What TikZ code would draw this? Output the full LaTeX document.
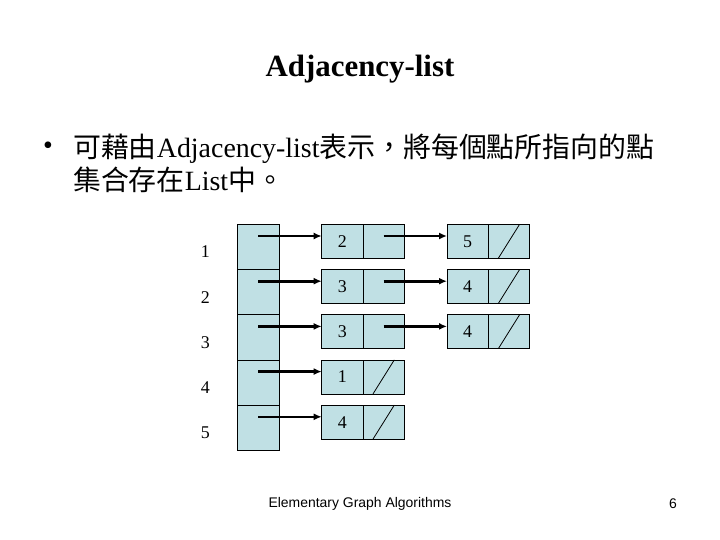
\documentclass[tikz,border=0pt]{standalone}
\usepackage{fontspec}
\setmainfont{Liberation Serif}
\setsansfont{Liberation Sans}
\newfontfamily\cjk{Noto Sans CJK TC}
\usetikzlibrary{arrows.meta, positioning}
\definecolor{cellblue}{RGB}{192, 224, 228}

\begin{document}
\begin{tikzpicture}[x=1bp, y=-1bp,
        slot/.style={rectangle, draw=black, fill=cellblue, line width=0.8bp, minimum width=42bp, minimum height=45.2bp, inner sep=0pt, outer sep=0pt},
        datac/.style={rectangle, draw=black, fill=cellblue, line width=0.8bp, minimum width=41.3bp, minimum height=34bp, inner sep=0pt, outer sep=0pt, font=\fontsize{18}{20}\selectfont},
        idx/.style={font=\fontsize{18}{20}\selectfont},
        arr/.style={-{Latex[length=8bp, width=7bp]}, line width=2.6bp},
        nil/.style={line width=0.8bp}
    ]
        \useasboundingbox (0,0) rectangle (720,540);

        % Titre et texte
        \node[font=\fontsize{31}{36}\selectfont\bfseries] (title) at (360,69) {Adjacency-list};
        \node[font=\fontsize{28}{32}\selectfont] (bul) at (48,148) {\textbullet};
        \node[anchor=north west, align=left, inner sep=0pt, font=\fontsize{28}{33}\selectfont] (txt) at (73,134)
            {{\cjk 可藉由}Adjacency-list{\cjk 表示，將每個點所指向的點}\\{\cjk 集合存在}List{\cjk 中。}};

        % Tableau des sommets
        \node[slot] (a1) at (258.3,246.9) {};
        \node[slot, below=0pt of a1] (a2) {};
        \node[slot, below=0pt of a2] (a3) {};
        \node[slot, below=0pt of a3] (a4) {};
        \node[slot, below=0pt of a4] (a5) {};

        \node[idx, left=24bp of a1, yshift=-5bp] (l1) {1};
        \node[idx, left=24bp of a2, yshift=-5bp] (l2) {2};
        \node[idx, left=24bp of a3, yshift=-5bp] (l3) {3};
        \node[idx, left=24bp of a4, yshift=-5bp] (l4) {4};
        \node[idx, left=24bp of a5, yshift=-5bp] (l5) {5};

        % Listes
        \node[datac, below right=0pt and 42.4bp of a1.north east] (n1a) {2};
        \node[datac, right=0pt of n1a] (p1a) {};
        \node[datac, right=42.7bp of p1a] (n1b) {5};
        \node[datac, right=0pt of n1b] (p1b) {};

        \node[datac, below right=0pt and 42.4bp of a2.north east] (n2a) {3};
        \node[datac, right=0pt of n2a] (p2a) {};
        \node[datac, right=42.7bp of p2a] (n2b) {4};
        \node[datac, right=0pt of n2b] (p2b) {};

        \node[datac, below right=0pt and 42.4bp of a3.north east] (n3a) {3};
        \node[datac, right=0pt of n3a] (p3a) {};
        \node[datac, right=42.7bp of p3a] (n3b) {4};
        \node[datac, right=0pt of n3b] (p3b) {};

        \node[datac, below right=0pt and 42.4bp of a4.north east] (n4a) {1};
        \node[datac, right=0pt of n4a] (p4a) {};

        \node[datac, below right=0pt and 42.4bp of a5.north east] (n5a) {4};
        \node[datac, right=0pt of n5a] (p5a) {};

        % Pointeurs
        \draw[arr] ([yshift=-11.7bp]a1.north) -- ([yshift=-11.7bp]n1a.north west);
        \draw[arr] ([yshift=-11.7bp]a2.north) -- ([yshift=-11.7bp]n2a.north west);
        \draw[arr] ([yshift=-11.7bp]a3.north) -- ([yshift=-11.7bp]n3a.north west);
        \draw[arr] ([yshift=-11.7bp]a4.north) -- ([yshift=-11.7bp]n4a.north west);
        \draw[arr] ([yshift=-11.7bp]a5.north) -- ([yshift=-11.7bp]n5a.north west);
        \draw[arr] ([yshift=-11.7bp]p1a.north) -- ([yshift=-11.7bp]n1b.north west);
        \draw[arr] ([yshift=-11.7bp]p2a.north) -- ([yshift=-11.7bp]n2b.north west);
        \draw[arr] ([yshift=-11.7bp]p3a.north) -- ([yshift=-11.7bp]n3b.north west);

        % Fins de liste
        \foreach \c in {p1b, p2b, p3b, p4a, p5a}
            \draw[nil] ([xshift=10bp]\c.south west) -- ([xshift=-10bp]\c.north east);

        % Pied de page
        \node[font=\sffamily\fontsize{14}{16}\selectfont] (foot) at (360,504) {Elementary Graph Algorithms};
        \node[font=\sffamily\fontsize{14}{16}\selectfont] (page) at (673,504) {6};
    \end{tikzpicture}
\end{document}
